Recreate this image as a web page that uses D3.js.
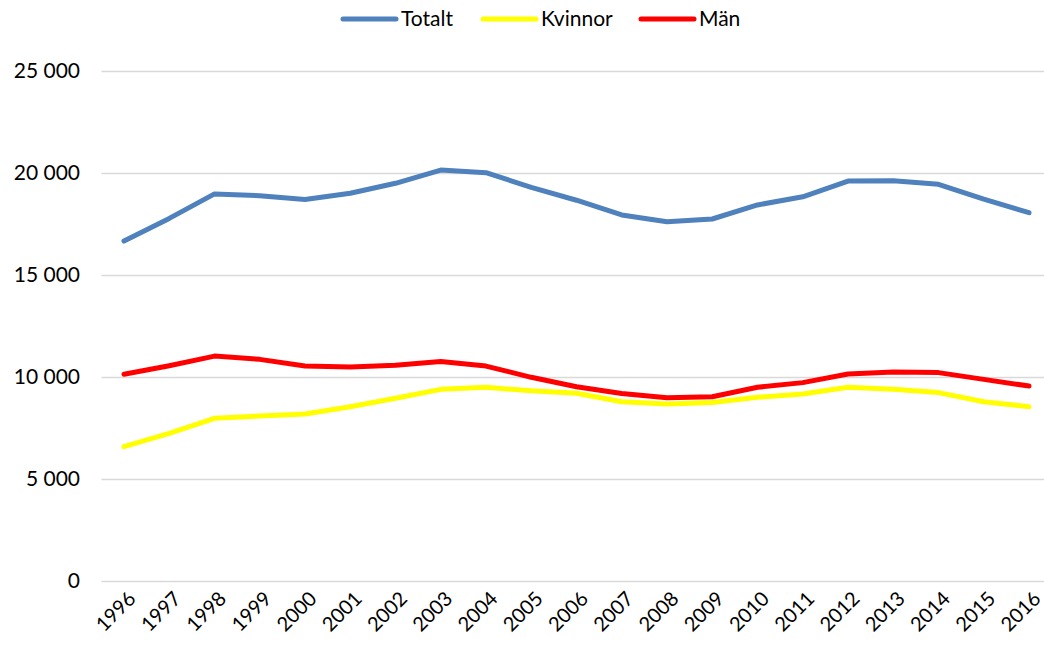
<!DOCTYPE html>
<html>
<head>
<meta charset="utf-8">
<script src="https://cdn.jsdelivr.net/npm/d3@7"></script>
<style>
  body { margin: 0; background: #fff; }
  text { font-family: Lato, "Open Sans", sans-serif; fill: #000; }
</style>
</head>
<body>
<div id="chart"></div>
<script>
// chart data
let years = ["1996","1997","1998","1999","2000","2001","2002","2003","2004","2005","2006",
             "2007","2008","2009","2010","2011","2012","2013","2014","2015","2016"];

let totalt  = [16650, 17760, 18960, 18870, 18690, 18990, 19480, 20130, 20000, 19280, 18650,
               17930, 17600, 17730, 18420, 18820, 19590, 19600, 19430, 18700, 18040];
let kvinnor = [6570, 7220, 7960, 8070, 8170, 8530, 8940, 9380, 9480, 9310, 9190,
               8770, 8660, 8740, 8990, 9150, 9480, 9380, 9220, 8770, 8530];
let man     = [10120, 10540, 11010, 10850, 10520, 10480, 10560, 10750, 10520, 9970, 9510,
               9180, 8970, 9020, 9480, 9710, 10130, 10230, 10200, 9870, 9540];

let yTicks = [0, 5000, 10000, 15000, 20000, 25000];
let seriesNames = ["Totalt", "Kvinnor", "Män"];
let seriesColors = ["#4f81bd", "#ffff00", "#ff0000"];

let width = 1044, height = 646;

let svg = d3.select("#chart")
    .append("svg")
    .attr("width", width)
    .attr("height", height);

// x: categories centred in bands
let x = d3.scalePoint()
    .domain(years)
    .range([124, 1029]);

let y = d3.scaleLinear()
    .domain([0, 25000])
    .range([580.7, 70.7]);

let plotLeft = 101.5, plotRight = 1051;

// gridlines
svg.append("g")
    .selectAll("line")
    .data(yTicks)
    .join("line")
    .attr("x1", plotLeft)
    .attr("x2", plotRight)
    .attr("y1", d => Math.round(y(d)) + 0.5)
    .attr("y2", d => Math.round(y(d)) + 0.5)
    .attr("stroke", "#d9d9d9")
    .attr("stroke-width", 1.3);

// y tick labels, space as thousands separator
let fmt = d => d3.format(",")(d).replace(/,/g, " ");
svg.append("g")
    .selectAll("text")
    .data(yTicks)
    .join("text")
    .attr("x", 80)
    .attr("y", d => y(d))
    .attr("dy", "0.35em")
    .attr("text-anchor", "end")
    .style("font-size", "21px")
    .text(fmt);

// x tick labels, rotated
svg.append("g")
    .selectAll("text")
    .data(years)
    .join("text")
    .attr("transform", d => `translate(${x(d) + 8},${595}) rotate(-45)`)
    .attr("text-anchor", "end")
    .attr("dy", "0.35em")
    .style("font-size", "20px")
    .text(d => d);

// lines
let line = d3.line()
    .x((d, i) => x(years[i]))
    .y(d => y(d));

let allSeries = [totalt, kvinnor, man];

svg.append("g")
    .selectAll("path")
    .data(allSeries)
    .join("path")
    .attr("d", d => line(d))
    .attr("fill", "none")
    .attr("stroke", (d, i) => seriesColors[i])
    .attr("stroke-width", 5)
    .attr("stroke-linejoin", "round")
    .attr("stroke-linecap", "round");

// legend
let legendX = [343, 483, 641];
let legend = svg.append("g")
    .selectAll("g")
    .data(seriesNames)
    .join("g")
    .attr("transform", (d, i) => `translate(${legendX[i]},19)`);

legend.append("line")
    .attr("x1", 0)
    .attr("x2", 53)
    .attr("stroke", (d, i) => seriesColors[i])
    .attr("stroke-width", 5)
    .attr("stroke-linecap", "round");

legend.append("text")
    .attr("x", 58)
    .attr("dy", "0.35em")
    .style("font-size", "21px")
    .text(d => d);
</script>
</body>
</html>
